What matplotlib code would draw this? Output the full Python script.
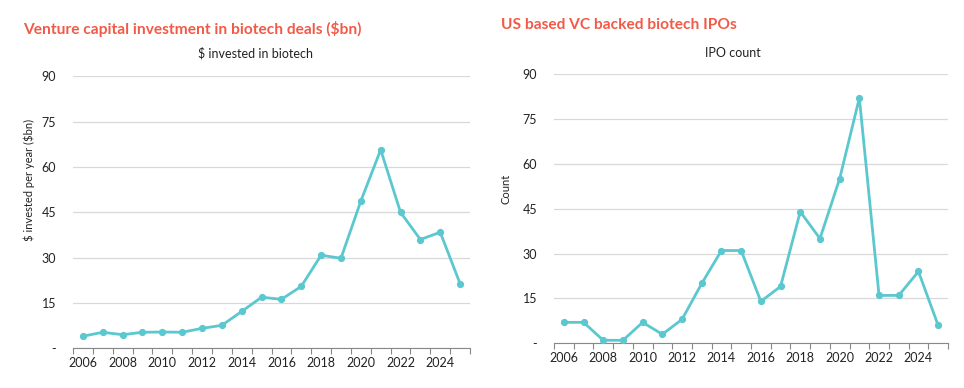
import matplotlib
matplotlib.use("Agg")
import matplotlib.pyplot as plt

plt.rcParams['font.family'] = ['Lato', 'DejaVu Sans']
plt.rcParams['text.parse_math'] = False

years = list(range(2006, 2026))
vc_invested = [4.0, 5.3, 4.5, 5.3, 5.4, 5.3, 6.6, 7.6, 12.2, 16.9, 16.2, 20.5,
               30.8, 29.8, 48.7, 65.7, 45.0, 36.0, 38.4, 21.4]
ipo_count = [7, 7, 1, 1, 7, 3, 8, 20, 31, 31, 14, 19, 44, 35, 55, 82, 16, 16, 24, 6]
y_ticks = [0, 15, 30, 45, 60, 75, 90]
y_tick_labels = ['-', '15', '30', '45', '60', '75', '90']

LINE = '#5BC8CF'
RED = '#F25A47'
GRID = '#D9D9D9'

fig = plt.figure(figsize=(9.64, 3.88), dpi=100)
ax1 = fig.add_axes([73 / 964, 1 - 348.3 / 388, 397 / 964, 272 / 388])
ax2 = fig.add_axes([554 / 964, 1 - 343.3 / 388, 394 / 964, 269.3 / 388])


def style(ax, values, ylabel, lab_xy):
    x = list(range(len(years)))
    ax.plot(x, values, color=LINE, lw=2, marker='o', ms=4.2, zorder=3)
    ax.set_xlim(-0.5, len(years) - 0.5)
    ax.set_ylim(0, 90)
    ax.set_yticks(y_ticks)
    ax.set_yticklabels(y_tick_labels)
    ax.tick_params(axis='y', length=0, pad=12, labelsize=9, colors='#222222')
    ax.grid(axis='y', color=GRID, lw=0.9)
    ax.set_axisbelow(True)
    for s in ['top', 'right', 'left']:
        ax.spines[s].set_visible(False)
    ax.spines['bottom'].set_color('#888888')
    ax.set_xticks([i - 0.5 for i in range(len(years) + 1)])
    ax.set_xticklabels([])
    ax.tick_params(axis='x', which='major', length=4, color='#888888')
    ax.set_xticks(x[::2], minor=True)
    ax.set_xticklabels([str(y) for y in years[::2]], minor=True)
    ax.tick_params(axis='x', which='minor', length=0, pad=6, labelsize=9, colors='#222222')
    ax.set_ylabel(ylabel, fontsize=8, color='#222222')
    ax.yaxis.set_label_coords(*lab_xy)


style(ax1, vc_invested, '$ invested per year ($bn)', ((35 - 73) / 397, 0.62))
style(ax2, ipo_count, 'Count', ((512 - 554) / 394, 0.573))

fig.text(23 / 964, 1 - 29 / 388, 'Venture capital investment in biotech deals ($bn)',
         color=RED, fontsize=11.2, fontweight='bold', va='center', ha='left')
fig.text(501 / 964, 1 - 25 / 388, 'US based VC backed biotech IPOs',
         color=RED, fontsize=11.2, fontweight='bold', va='center', ha='left')
fig.text(256 / 964, 1 - 53 / 388, '$ invested in biotech', fontsize=9,
         color='#222222', va='center', ha='center')
fig.text(733 / 964, 1 - 53 / 388, 'IPO count', fontsize=9,
         color='#222222', va='center', ha='center')

fig.savefig('out.png', dpi=100)
